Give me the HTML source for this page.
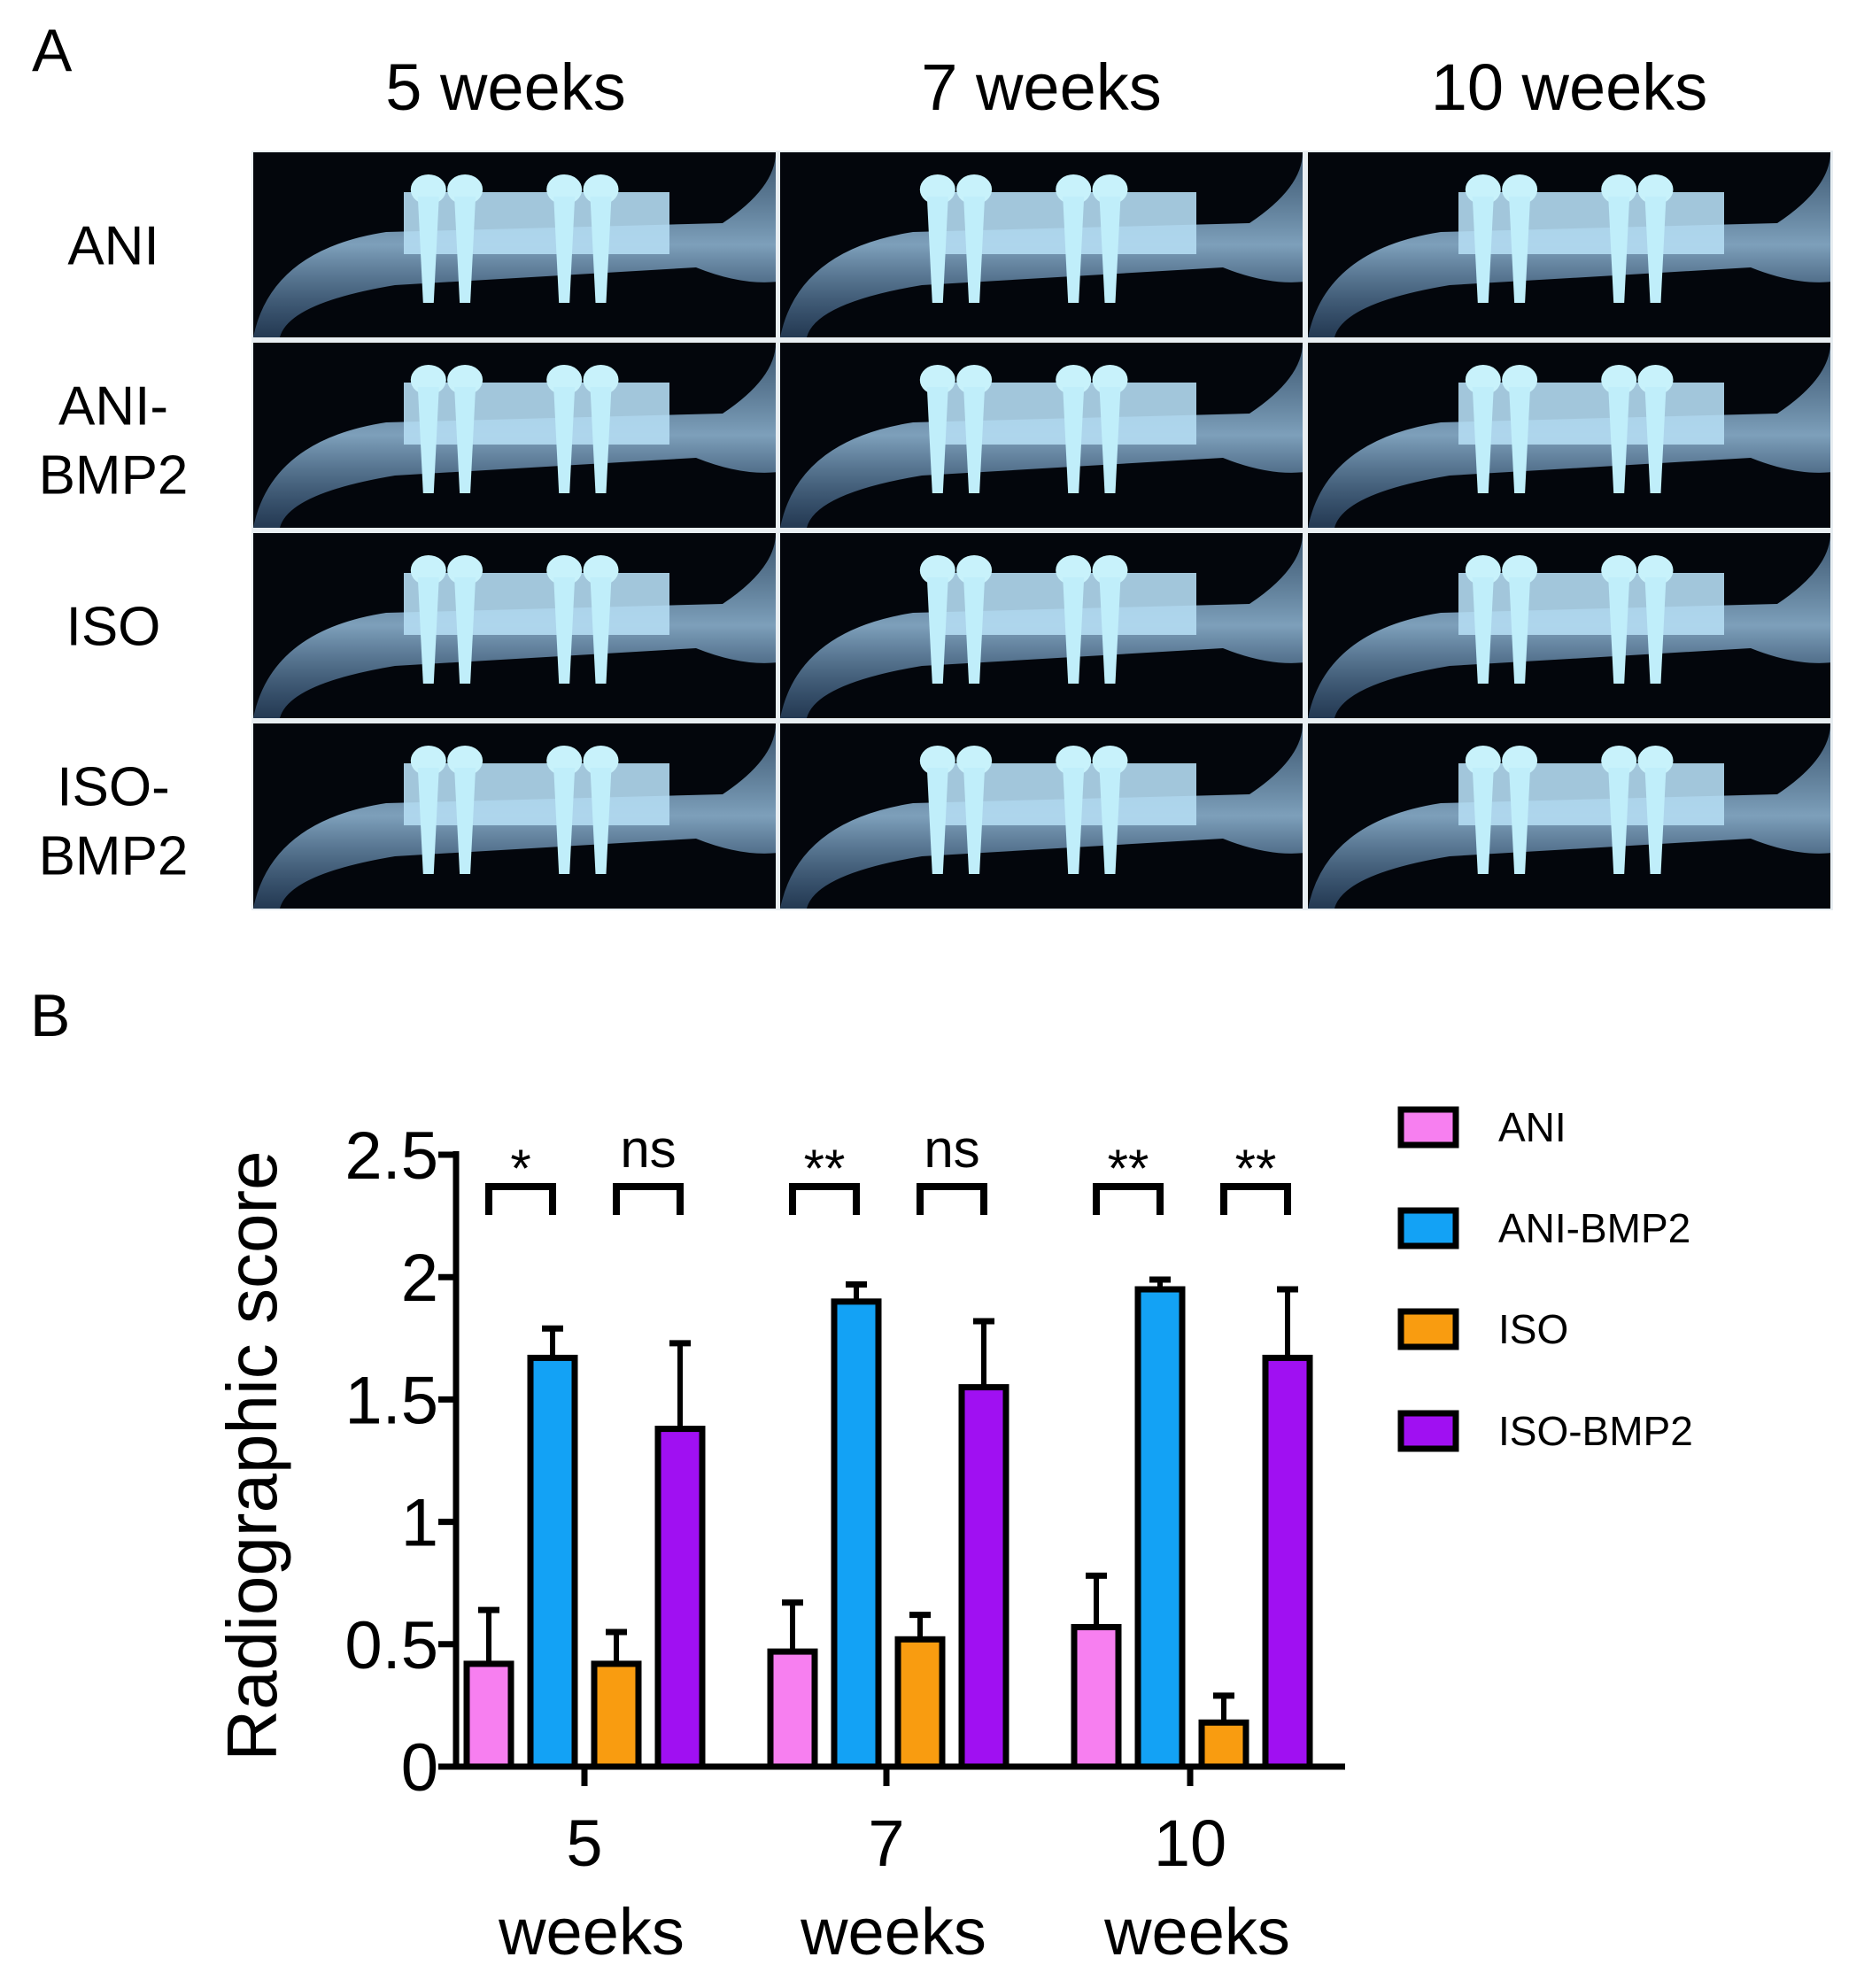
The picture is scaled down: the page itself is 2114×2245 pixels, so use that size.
<!DOCTYPE html>
<html><head><meta charset="utf-8"><style>
body{margin:0;background:#fff;}
svg text{font-family:"Liberation Sans",sans-serif;}
</style></head><body>
<svg id="fig" width="2114" height="2240" viewBox="0 0 2114 2240" xmlns="http://www.w3.org/2000/svg">
<defs>
<linearGradient id="bone" x1="0" y1="0" x2="0" y2="1">
<stop offset="0" stop-color="#6f9cc4" stop-opacity="0.55"/><stop offset="0.5" stop-color="#9cc6e6" stop-opacity="0.8"/><stop offset="1" stop-color="#4c78a8" stop-opacity="0.45"/>
</linearGradient>
</defs>
<text x="36" y="80" font-size="68">A</text>
<g id="colhdr"></g>
<g id="photos"></g>
<g id="rowlbl"></g>
<text x="34" y="1170" font-size="68">B</text>
<g id="chart"></g>
</svg>
<script>
const NS='http://www.w3.org/2000/svg';
function mk(tag,attrs,parent,txt){const e=document.createElementNS(NS,tag);for(const k in attrs)e.setAttribute(k,attrs[k]);if(txt!==undefined)e.textContent=txt;parent.appendChild(e);return e;}
// Panel A
const colHeaders=['5 weeks','7 weeks','10 weeks'];
const rowLabels=[['ANI'],['ANI-','BMP2'],['ISO'],['ISO-','BMP2']];
const colX=[286,881,1477], colW=590, rowY=[172,387,602,817], rowH=209;
const ch=document.getElementById('colhdr');
colHeaders.forEach((t,i)=>{const e=mk('text',{x:colX[i]+colW/2+(i==0?-10:0),y:124,'font-size':74,'text-anchor':'middle'},ch,t);

});
const rl=document.getElementById('rowlbl');
rowLabels.forEach((ls,r)=>{const cy=rowY[r]+rowH/2;ls.forEach((t,j)=>{const y=ls.length==1?cy+22:cy-34+j*78+22;
const e=mk('text',{x:128,y:y,'font-size':62,'text-anchor':'middle'},rl,t);

});});
const ph=document.getElementById('photos');
mk('rect',{x:284,y:170,width:1786,height:858,fill:'#e8eef2'},ph);
for(let r=0;r<4;r++)for(let c=0;c<3;c++){
 const g=mk('g',{transform:`translate(${colX[c]},${rowY[r]})`},ph);
 
 
 mk('rect',{x:0,y:0,width:colW,height:rowH,fill:'#03060c'},g);
 mk('path',{d:`M0 ${rowH} Q20 110 150 90 L${colW-60} 80 Q${colW} 40 ${colW} 0 L${colW} ${rowH*0.7} Q${colW-40} 150 ${colW-90} 130 L160 150 Q40 170 30 ${rowH} Z`,fill:'url(#bone)'},g);
 mk('rect',{x:170,y:45,width:300,height:70,fill:'#b4dcf2',opacity:0.9},g);
 const off=c==1?-20:0;
 [0.22,0.29,0.48,0.55].map(f=>f*colW+170*0.4+off).forEach(sx=>{
  mk('ellipse',{cx:sx,cy:42,rx:20,ry:17,fill:'#c8f2fb'},g);
  mk('path',{d:`M${sx-12} 50 L${sx+12} 50 L${sx+6} 170 L${sx-6} 170 Z`,fill:'#c0eefa'},g);
 });
}
// Panel B chart
const categories=['5','7','10'];
const seriesNames=['ANI','ANI-BMP2','ISO','ISO-BMP2'];
const seriesColors=['#f77ff0','#13a2f5','#f99c10','#a010f2'];
const aniVals=[0.42,0.47,0.57];
const aniErr=[0.22,0.2,0.21];
const aniBmpVals=[1.67,1.9,1.95];
const aniBmpErr=[0.12,0.07,0.04];
const isoVals=[0.42,0.52,0.18];
const isoErr=[0.13,0.1,0.11];
const isoBmpVals=[1.38,1.55,1.67];
const isoBmpErr=[0.35,0.27,0.28];
const sigLabels=['*','ns','**','ns','**','**'];
const yTicks=[0,0.5,1,1.5,2,2.5];
const yTickLabels=['0','0.5','1','1.5','2','2.5'];
const vals=[aniVals,aniBmpVals,isoVals,isoBmpVals], errs=[aniErr,aniBmpErr,isoErr,isoBmpErr];
const X0=515,X1=1519,Y0=1995,Y25=1304;
const yS=v=>Y0-(Y0-Y25)*v/2.5;
const groupC=[660,1003,1346];
const xS=(gi,si)=>groupC[gi]+(si-1.5)*72;
const BW=50;
const cg=document.getElementById('chart');
vals.forEach((arr,si)=>arr.forEach((v,gi)=>{
 const cx=xS(gi,si),top=yS(v),et=yS(v+errs[si][gi]);
 const l=mk('line',{x1:cx,y1:top,x2:cx,y2:et,stroke:'#000','stroke-width':6},cg);
 
 
 mk('line',{x1:cx-12,y1:et,x2:cx+12,y2:et,stroke:'#000','stroke-width':7},cg);
 const b=mk('rect',{x:cx-BW/2,y:top,width:BW,height:Y0-top,fill:seriesColors[si],stroke:'#000','stroke-width':7},cg);
 
 
}));
const ya=mk('line',{x1:X0,y1:Y25-4,x2:X0,y2:Y0,stroke:'#000','stroke-width':7},cg);


const xa=mk('line',{x1:X0-20,y1:Y0,x2:X1,y2:Y0,stroke:'#000','stroke-width':7},cg);


yTicks.forEach((t,i)=>{const y=yS(t);
 mk('line',{x1:X0-20,y1:y,x2:X0,y2:y,stroke:'#000','stroke-width':7},cg);
 const e=mk('text',{x:X0-20,y:y+27,'font-size':76,'text-anchor':'end'},cg,yTickLabels[i]);
 
 });
categories.forEach((c,gi)=>{const x=groupC[gi]+(gi==0?0:-2);
 mk('line',{x1:x,y1:Y0,x2:x,y2:Y0+22,stroke:'#000','stroke-width':7},cg);
 const e=mk('text',{x:x,y:2107,'font-size':74,'text-anchor':'middle'},cg,c);
 
 
 const w=mk('text',{x:x+8,y:2207,'font-size':74,'text-anchor':'middle'},cg,'weeks');
 
 });
const yl=mk('text',{x:0,y:0,'font-size':80,'text-anchor':'middle',transform:'translate(312,1644) rotate(-90)'},cg,'Radiographic score');


sigLabels.forEach((s,k)=>{const gi=Math.floor(k/2),a=(k%2)*2;
 const x1=xS(gi,a),x2=xS(gi,a+1),yt=1340,yb=1372;
 const p=mk('path',{d:`M${x1} ${yb} L${x1} ${yt} L${x2} ${yt} L${x2} ${yb}`,fill:'none',stroke:'#000','stroke-width':8},cg);
 
 
 const t=mk('text',{x:(x1+x2)/2,y:s=='ns'?1318:1340,'font-size':s=='ns'?60:60,'text-anchor':'middle'},cg,s);
 
 });
const legY=[1273,1387,1501,1616];
seriesNames.forEach((n,i)=>{
 const r=mk('rect',{x:1582,y:legY[i]-20,width:62,height:40,fill:seriesColors[i],stroke:'#000','stroke-width':7},cg);
 
 
 const t=mk('text',{x:1692,y:legY[i]+16,'font-size':46},cg,n);
 
 });
</script>
</body></html>
